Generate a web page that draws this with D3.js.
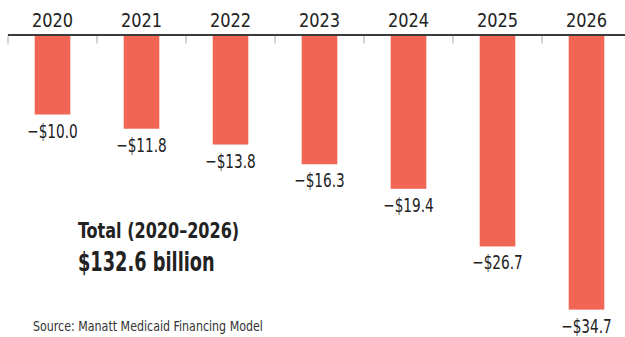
<!DOCTYPE html>
<html lang="en">
<head>
	<meta charset="UTF-8">
	<title>Medicaid financing loss by year</title>
	<style type="text/css">
		body {
			margin: 0;
			background: #fff;
		}
		svg text {
			font-family: "DejaVu Sans Condensed", "Liberation Sans Narrow", sans-serif;
			fill: #222;
		}
		.year { font-size: 20px; }
		.value { font-size: 20px; }
		.total1 { font-size: 21px; font-weight: bold; }
		.total2 { font-size: 26px; font-weight: bold; }
		.source { font-size: 14px; fill: #333; }
	</style>
	<script src="https://d3js.org/d3.v7.min.js"></script>
</head>
<body>
<script type="text/javascript">
	// data, in billions of dollars
	var years = ['2020', '2021', '2022', '2023', '2024', '2025', '2026'];
	var values = [-10.0, -11.8, -13.8, -16.3, -19.4, -26.7, -34.7];
	var valueLabels = ['\u2212$10.0', '\u2212$11.8', '\u2212$13.8', '\u2212$16.3', '\u2212$19.4', '\u2212$26.7', '\u2212$34.7'];
	var totalTitle = 'Total (2020\u20132026)';
	var totalValue = '$132.6 billion';
	var sourceNote = 'Source: Manatt Medicaid Financing Model';

	var fullWidth = 625;
	var fullHeight = 337;
	var axisY = 35.5;

	var svg = d3.select('body')
		.append('svg')
		.attr('width', fullWidth)
		.attr('height', fullHeight);

	// x: one band per year, bars sit in the middle of each slot
	var x = d3.scaleBand()
		.domain(years)
		.range([8, 631])
		.paddingInner(0.6)
		.paddingOuter(0.3);

	// y: negative values grow downward from the axis
	var y = d3.scaleLinear()
		.domain([0, -35])
		.range([axisY, axisY + 35 * 7.9]);

	// the original type is a narrow face, so squeeze ours horizontally
	function place(sel, fx, fy, sx) {
		sel.attr('transform', function(d, i){
			return 'translate(' + fx(d, i) + ',' + fy(d, i) + ') scale(' + sx + ',1)';
		});
	}

	var step = x.step();
	var tickXs = years.map(function(d){ return x(d) + x.bandwidth() / 2 - step / 2; });

	// slot separators
	svg.append('g')
		.selectAll('line')
		.data(tickXs)
		.enter().append('line')
		.attr('x1', function(d){ return d; })
		.attr('x2', function(d){ return d; })
		.attr('y1', axisY)
		.attr('y2', axisY + 8)
		.style('stroke', '#c4c4c4')
		.style('stroke-width', 1.5);

	// bars
	svg.selectAll('.bar')
		.data(values)
		.enter().append('rect')
		.attr('class', 'bar')
		.attr('x', function(d, i){ return x(years[i]); })
		.attr('width', x.bandwidth())
		.attr('y', y(0))
		.attr('height', function(d){ return y(d) - y(0); })
		.style('fill', '#f06553');

	// axis line
	svg.append('line')
		.attr('x1', 8)
		.attr('x2', fullWidth)
		.attr('y1', axisY - 0.5)
		.attr('y2', axisY - 0.5)
		.style('stroke', '#3a3a3a')
		.style('stroke-width', 2);

	// year labels
	svg.selectAll('.year')
		.data(years)
		.enter().append('text')
		.attr('class', 'year')
		.attr('text-anchor', 'middle')
		.text(function(d){ return d; })
		.call(place, function(d){ return x(d) + x.bandwidth() / 2; }, function(){ return 27; }, 0.9);

	// value labels under each bar
	svg.selectAll('.value')
		.data(values)
		.enter().append('text')
		.attr('class', 'value')
		.attr('text-anchor', 'middle')
		.text(function(d, i){ return valueLabels[i]; })
		.call(place, function(d, i){ return x(years[i]) + x.bandwidth() / 2; }, function(d){ return y(d) + 23; }, 0.76);

	// total callout
	svg.append('text')
		.datum(totalTitle)
		.attr('class', 'total1')
		.text(function(d){ return d; })
		.call(place, function(){ return 78; }, function(){ return 238; }, 0.85);

	svg.append('text')
		.datum(totalValue)
		.attr('class', 'total2')
		.text(function(d){ return d; })
		.call(place, function(){ return 78; }, function(){ return 271; }, 0.76);

	// source
	svg.append('text')
		.datum(sourceNote)
		.attr('class', 'source')
		.text(function(d){ return d; })
		.call(place, function(){ return 33; }, function(){ return 331; }, 0.88);
</script>
</body>
</html>
